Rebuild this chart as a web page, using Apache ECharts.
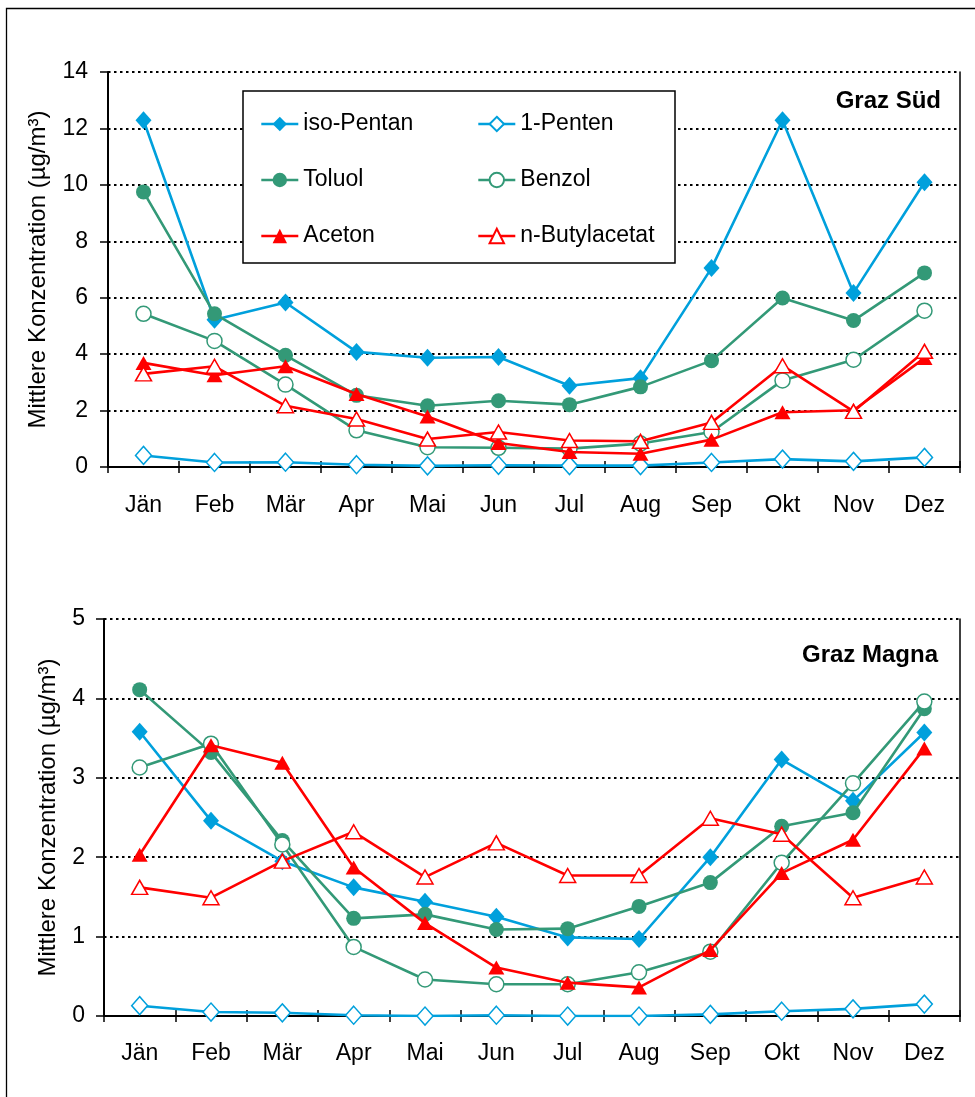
<!DOCTYPE html>
<html><head><meta charset="utf-8">
<script src="https://cdn.jsdelivr.net/npm/echarts@6/dist/echarts.min.js"></script>
<style>html,body{margin:0;padding:0;background:#fff}#c{width:975px;height:1097px}</style>
</head><body><div id="c"></div>
<script>
const months = ['Jän','Feb','Mär','Apr','Mai','Jun','Jul','Aug','Sep','Okt','Nov','Dez'];
const seriesNames = ['iso-Pentan','1-Penten','Toluol','Benzol','Aceton','n-Butylacetat'];
const titleSued = 'Graz Süd';
const titleMagna = 'Graz Magna';
const yName = 'Mittlere Konzentration (µg/m³)';

// Graz Süd
const suedIsoPentan = [12.29,5.22,5.83,4.08,3.87,3.90,2.88,3.15,7.05,12.29,6.17,10.09];
const suedPenten    = [0.41,0.16,0.17,0.08,0.04,0.06,0.05,0.05,0.16,0.28,0.20,0.34];
const suedToluol    = [9.75,5.43,3.96,2.54,2.17,2.35,2.21,2.84,3.77,5.99,5.19,6.88];
const suedBenzol    = [5.43,4.47,2.92,1.30,0.70,0.68,0.65,0.83,1.24,3.07,3.80,5.54];
const suedAceton    = [3.69,3.25,3.57,2.59,1.79,0.85,0.53,0.47,0.97,1.94,2.01,3.86];
const suedButyl     = [3.30,3.57,2.17,1.70,0.99,1.24,0.94,0.91,1.58,3.59,1.97,4.10];

// Graz Magna
const magnaIsoPentan = [3.58,2.46,1.95,1.62,1.44,1.25,0.99,0.97,2.00,3.23,2.71,3.57];
const magnaPenten    = [0.13,0.05,0.04,0.01,0.00,0.01,0.00,0.00,0.02,0.06,0.09,0.15];
const magnaToluol    = [4.11,3.32,2.21,1.23,1.28,1.09,1.10,1.38,1.68,2.39,2.56,3.87];
const magnaBenzol    = [3.13,3.43,2.16,0.87,0.46,0.40,0.40,0.55,0.81,1.93,2.93,3.96];
const magnaAceton    = [2.03,3.41,3.19,1.87,1.17,0.61,0.42,0.36,0.83,1.80,2.22,3.37];
const magnaButyl     = [1.62,1.49,1.95,2.32,1.75,2.18,1.77,1.77,2.49,2.29,1.49,1.75];

const BLUE = '#00A0DC', GREEN = '#339977', RED = '#FF0000';
const FONT = 'Liberation Sans, Arial, sans-serif';
const styles = [
  {color: BLUE, symbol: 'diamond', size: [16, 18], filled: true},
  {color: BLUE, symbol: 'diamond', size: [16, 18], filled: false},
  {color: GREEN, symbol: 'circle', size: 15, filled: true},
  {color: GREEN, symbol: 'circle', size: 15, filled: false},
  {color: RED, symbol: 'triangle', size: [16, 14], filled: true},
  {color: RED, symbol: 'triangle', size: [16, 14], filled: false}
];
const suedData = [suedIsoPentan, suedPenten, suedToluol, suedBenzol, suedAceton, suedButyl];
const magnaData = [magnaIsoPentan, magnaPenten, magnaToluol, magnaBenzol, magnaAceton, magnaButyl];

function mk(i, data, ax) {
  const s = styles[i];
  return {
    name: seriesNames[i], type: 'line', data: data,
    xAxisIndex: ax, yAxisIndex: ax,
    symbol: s.symbol, symbolSize: s.size, showAllSymbol: true,
    lineStyle: {color: s.color, width: 2.6},
    itemStyle: {color: s.filled ? s.color : '#fff', borderColor: s.color, borderWidth: s.filled ? 0 : 1.5},
    emphasis: {disabled: true}, z: 3 + i
  };
}

function xAxes(grid, margin) {
  return [
    {type: 'category', gridIndex: grid, data: months, boundaryGap: true, position: 'bottom',
     axisLine: {lineStyle: {color: '#000', width: 2}},
     axisTick: {show: true, inside: false, length: 6, lineStyle: {color: '#000', width: 1.5}},
     axisLabel: {color: '#000', fontSize: 23, fontFamily: FONT, margin: margin, interval: 0}},
    {type: 'category', gridIndex: grid, data: months, boundaryGap: true, position: 'bottom',
     axisLine: {show: false},
     axisTick: {show: true, inside: true, length: 6, lineStyle: {color: '#000', width: 1.5}},
     axisLabel: {show: false}}
  ];
}
function yAxes(grid, max, interval, gap, margin) {
  return [
    {type: 'value', gridIndex: grid, min: 0, max: max, interval: interval, position: 'left',
     name: yName, nameLocation: 'middle', nameRotate: 90, nameGap: gap,
     nameTextStyle: {color: '#000', fontSize: 24, fontFamily: FONT},
     axisLine: {show: true, lineStyle: {color: '#000', width: 2}},
     axisTick: {show: true, length: 8, lineStyle: {color: '#000', width: 1.5}},
     axisLabel: {color: '#000', fontSize: 23, fontFamily: FONT, margin: margin},
     splitLine: {show: true, lineStyle: {color: '#000', width: 2.2, type: [2.5, 3.5]}}},
    {type: 'value', gridIndex: grid, min: 0, max: max, interval: interval, position: 'right',
     axisLine: {show: true, lineStyle: {color: '#000', width: 1.5}},
     axisTick: {show: false}, axisLabel: {show: false}, splitLine: {show: false}}
  ];
}

const series = [];
suedData.forEach((d, i) => series.push(mk(i, d, 0)));
magnaData.forEach((d, i) => series.push(mk(i, d, 2)));

const legendText = {fontSize: 23, color: '#000', fontFamily: FONT, lineHeight: 24};
const legendBase = {orient: 'vertical', top: 112, padding: 0, itemWidth: 37, itemHeight: 18, itemGap: 32,
  selectedMode: false, z: 20, textStyle: legendText, lineStyle: {width: 2.6}};
const chart = echarts.init(document.getElementById('c'), null, {renderer: 'canvas'});
chart.setOption({
  animation: false,
  backgroundColor: '#fff',
  textStyle: {fontFamily: FONT},
  title: [
    {text: titleSued, right: 29, top: 84, textStyle: {fontSize: 24, fontWeight: 'bold', color: '#000', fontFamily: FONT}},
    {text: titleMagna, right: 32, top: 638, textStyle: {fontSize: 24, fontWeight: 'bold', color: '#000', fontFamily: FONT}}
  ],
  legend: [
    Object.assign({data: [seriesNames[0], seriesNames[2], seriesNames[4]], left: 260}, legendBase),
    Object.assign({data: [seriesNames[1], seriesNames[3], seriesNames[5]], left: 477}, legendBase)
  ],
  grid: [
    {left: 108, right: 15, top: 72, height: 395},
    {left: 104, right: 15, top: 619, height: 397}
  ],
  xAxis: [...xAxes(0, 27), ...xAxes(1, 26)],
  yAxis: [...yAxes(0, 14, 2, 58, 20), ...yAxes(1, 5, 1, 44, 19)],
  graphic: [
    {type: 'rect', shape: {x: 6.5, y: 8.5, width: 1200, height: 1400}, style: {fill: null, stroke: '#000', lineWidth: 1.3}, z: 0, silent: true},
    {type: 'rect', shape: {x: 243, y: 91, width: 432, height: 172}, style: {fill: '#fff', stroke: '#000', lineWidth: 1.5}, z: 10, silent: true}
  ],
  series: series
});
</script></body></html>
